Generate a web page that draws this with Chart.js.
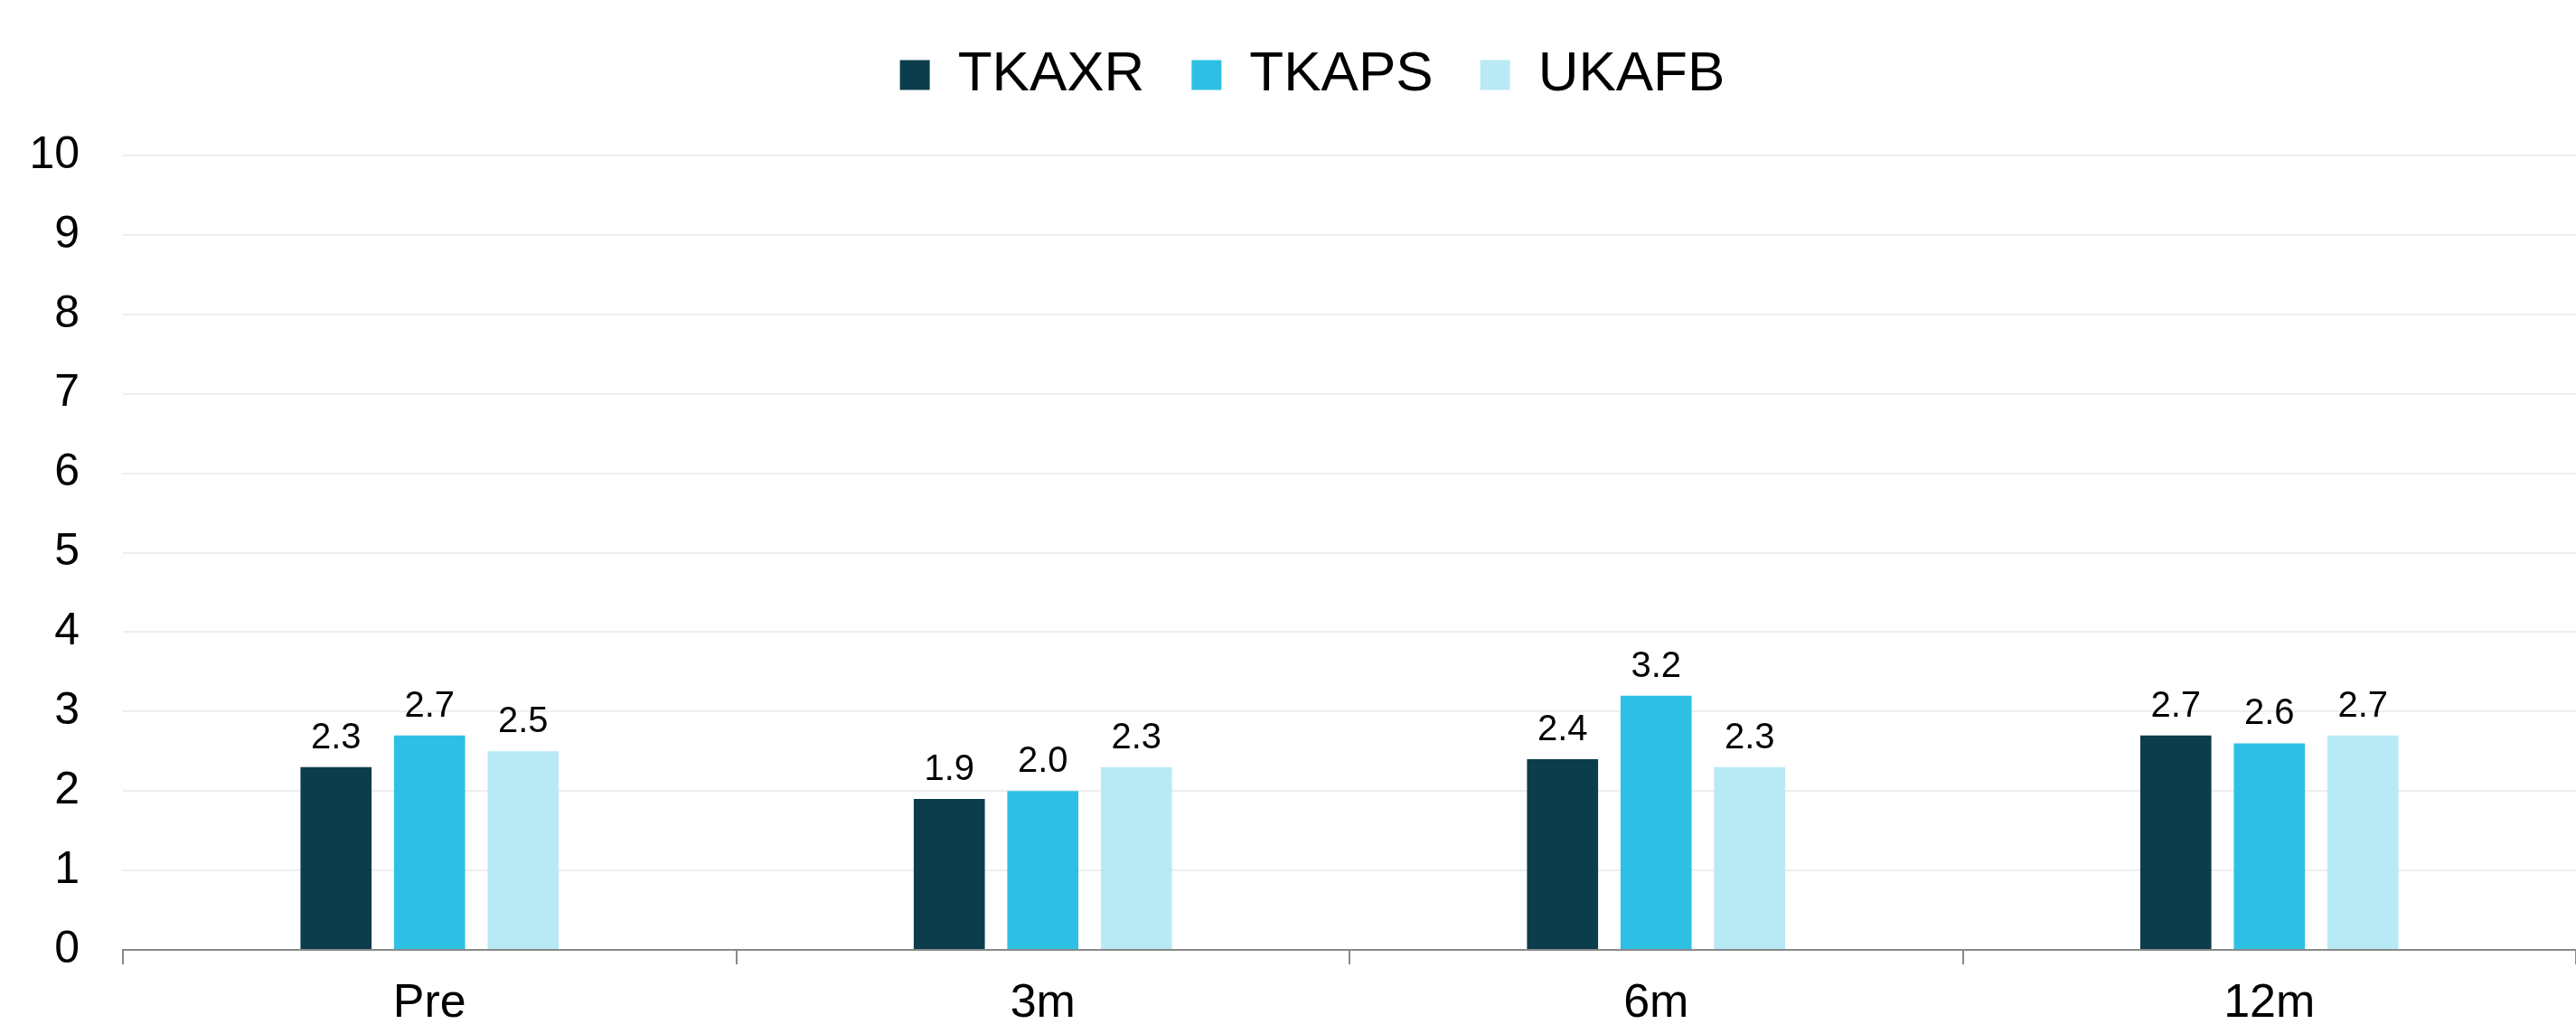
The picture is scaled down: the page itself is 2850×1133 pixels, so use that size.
<!DOCTYPE html>
<html>
<head>
<meta charset="utf-8">
<script src="https://cdn.jsdelivr.net/npm/chart.js@4.4.1/dist/chart.umd.min.js"></script>
<style>
  html, body { margin: 0; padding: 0; background: #ffffff; }
  #wrap { width: 2850px; height: 1133px; }
</style>
</head>
<body>
<div id="wrap"><canvas id="chart" width="2850" height="1133"></canvas></div>
<script>
// Time points and the three series
const categories = ['Pre', '3m', '6m', '12m'];
const seriesNames = ['TKAXR', 'TKAPS', 'UKAFB'];
const tkaxr = [2.3, 1.9, 2.4, 2.7];
const tkaps = [2.7, 2.0, 3.2, 2.6];
const ukafb = [2.5, 2.3, 2.3, 2.7];
const yTicks = [0, 1, 2, 3, 4, 5, 6, 7, 8, 9, 10];

const colors = ['#0C3D4C', '#2EC0E4', '#B8EAF5'];
const FONT = '"Liberation Sans", Arial, Helvetica, sans-serif';

// Legend block height and a small horizontal nudge for the legend row
const legendSizing = {
  id: 'legendSizing',
  beforeInit(chart) {
    const fit = chart.legend.fit;
    chart.legend.fit = function () {
      fit.call(this);
      this.height = 172;
    };
  },
  afterLayout(chart) {
    chart.legend.left += 27;
    chart.legend.right += 27;
  }
};

// Value labels written above each bar
const valueLabels = {
  id: 'valueLabels',
  afterDatasetsDraw(chart) {
    const ctx = chart.ctx;
    ctx.save();
    ctx.font = '40px ' + FONT;
    ctx.fillStyle = '#000000';
    ctx.textAlign = 'center';
    ctx.textBaseline = 'alphabetic';
    chart.data.datasets.forEach((ds, di) => {
      const meta = chart.getDatasetMeta(di);
      meta.data.forEach((bar, i) => {
        ctx.fillText(Number(ds.data[i]).toFixed(1), bar.x, bar.y - 21);
      });
    });
    ctx.restore();
  }
};

const seriesData = [tkaxr, tkaps, ukafb];

new Chart(document.getElementById('chart'), {
  type: 'bar',
  data: {
    labels: categories,
    datasets: seriesNames.map((name, i) => ({
      label: name,
      data: seriesData[i],
      backgroundColor: colors[i],
      borderWidth: 0,
      categoryPercentage: 0.4576,
      barPercentage: 0.76
    }))
  },
  options: {
    responsive: false,
    animation: false,
    layout: { padding: { top: 0, right: 0, bottom: 0, left: 0 } },
    plugins: {
      legend: {
        position: 'top',
        labels: {
          boxWidth: 33,
          boxHeight: 33,
          padding: 52,
          color: '#000000',
          font: { family: FONT, size: 62 }
        }
      },
      tooltip: { enabled: false }
    },
    scales: {
      x: {
        grid: {
          offset: true,
          drawOnChartArea: false,
          drawTicks: true,
          tickLength: 16,
          color: '#898989',
          lineWidth: 2
        },
        border: { display: true, color: '#898989', width: 2 },
        ticks: {
          color: '#000000',
          padding: 12,
          font: { family: FONT, size: 52 }
        },
        afterFit(scale) { scale.height = 82; }
      },
      y: {
        min: 0,
        max: 10,
        afterBuildTicks(scale) {
          scale.ticks = yTicks.map(v => ({ value: v }));
        },
        grid: {
          drawTicks: false,
          color: ctx => (ctx.tick && ctx.tick.value === 0) ? 'rgba(0,0,0,0)' : '#EEEEEE',
          lineWidth: 2
        },
        border: { display: false },
        ticks: {
          color: '#000000',
          padding: 48,
          font: { family: FONT, size: 50 }
        },
        afterFit(scale) { scale.width = 136; }
      }
    }
  },
  plugins: [legendSizing, valueLabels]
});
</script>
</body>
</html>
